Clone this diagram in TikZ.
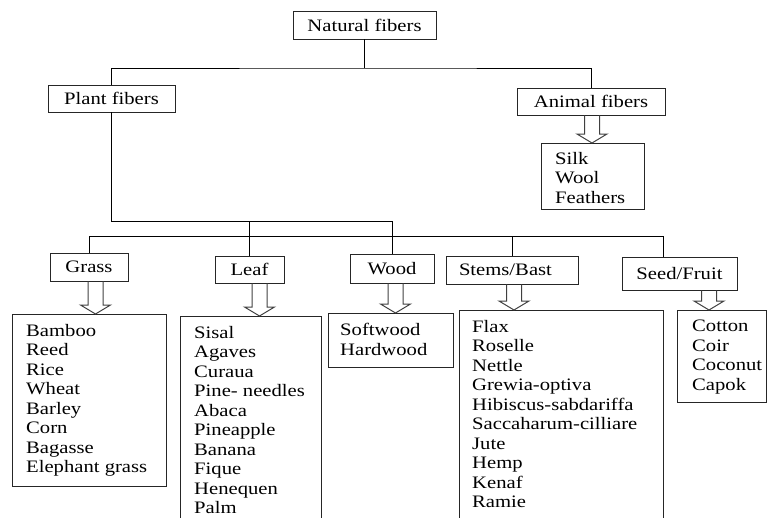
\documentclass[tikz,border=0pt]{standalone}
\usepackage{fontspec}
\setmainfont{Liberation Serif}[FakeStretch=1.18]
\usetikzlibrary{calc}

\newcommand{\hollowarrow}[3]{%
  \coordinate (ha) at (#3,0);
  \draw[hollow] ($(ha |- #1.south)+(-7.5,0)$) -- ($(ha |- #2.north)+(-7.5,-9)$)
    -- ($(ha |- #2.north)+(-15,-9)$) -- (ha |- #2.north)
    -- ($(ha |- #2.north)+(15,-9)$) -- ($(ha |- #2.north)+(7.5,-9)$)
    -- ($(ha |- #1.south)+(7.5,0)$);
}

\begin{document}
\begin{tikzpicture}[x=1pt,y=-1pt,
  catbox/.style={draw=black!85,line width=0.8pt,inner sep=0pt,font=\fontsize{17.5}{19.5}\selectfont},
  listbox/.style={draw=black!85,line width=0.8pt,inner sep=0pt,anchor=north west},
  listtext/.style={align=left,inner sep=0pt,anchor=north west,font=\fontsize{17.5}{19.5}\selectfont},
  hollow/.style={draw=black!75,line width=1pt},
  line/.style={draw=black,line width=0.8pt}]
\useasboundingbox (0,0) rectangle (767,517);
\clip (0,0) rectangle (767,517);

\node[catbox,minimum width=143,minimum height=28] (natural) at (364.5,25) {Natural fibers};
\node[catbox,minimum width=127,minimum height=27] (plant) at (111.5,98.5) {Plant fibers};
\node[catbox,minimum width=148,minimum height=27] (animal) at (591,101.5) {Animal fibers};

\node[catbox,minimum width=78,minimum height=28] (grass) at (89,267) {Grass};
\node[catbox,minimum width=69,minimum height=27] (leaf) at (249.5,269.5) {Leaf};
\node[catbox,minimum width=84,minimum height=29] (wood) at (392,268.5) {Wood};
\node[catbox,inner xsep=13pt,text width=106pt,align=left,minimum height=28] (stems) at (512,270) {Stems/Bast};
\node[catbox,minimum width=115,minimum height=33] (seed) at (679.5,273.5) {Seed/Fruit};

\node[listbox,minimum width=103,minimum height=66] (silkbox) at (541,143) {};
\node[listbox,minimum width=154,minimum height=172] (grassbox) at (12,314) {};
\node[listbox,minimum width=141,minimum height=220] (leafbox) at (180,316) {};
\node[listbox,minimum width=125,minimum height=54] (woodbox) at (328,313) {};
\node[listbox,minimum width=204,minimum height=220] (stemsbox) at (459,310) {};
\node[listbox,minimum width=89,minimum height=92] (seedbox) at (677,310) {};

\node[listtext] (silklist) at (555,152) {Silk\\Wool\\Feathers};
\node[listtext] (grasslist) at (26,324) {Bamboo\\Reed\\Rice\\Wheat\\Barley\\Corn\\Bagasse\\Elephant grass};
\node[listtext] (leaflist) at (194,326) {Sisal\\Agaves\\Curaua\\Pine- needles\\Abaca\\Pineapple\\Banana\\Fique\\Henequen\\Palm};
\node[listtext] (woodlist) at (340,323) {Softwood\\Hardwood};
\node[listtext] (stemslist) at (472,320) {Flax\\Roselle\\Nettle\\Grewia-optiva\\Hibiscus-sabdariffa\\Saccaharum-cilliare\\Jute\\Hemp\\Kenaf\\Ramie};
\node[listtext] (seedlist) at (692,320) {Cotton\\Coir\\Coconut\\Capok};

\coordinate (top) at (364.5,68);
\draw[line] (natural) -- (top);
\draw[line] (plant.north) |- (top) -| (animal.north);

\coordinate (mid) at (111.5,221);
\coordinate (j2) at (249.5,221);
\coordinate (j3) at (392,221);
\coordinate (low) at (89,236);
\coordinate (j4) at (512,236);
\coordinate (j5) at (663,236);
\draw[line] (plant.south) -- (mid) -- (j3);
\draw[line] (j2) -- (leaf.north);
\draw[line] (j3) -- (wood.north);
\draw[line] (grass.north) |- (j5) -- (j5 |- seed.north);
\draw[line] (j4) -- (stems.north);

\hollowarrow{animal}{silkbox}{592}
\hollowarrow{grass}{grassbox}{95.5}
\hollowarrow{leaf}{leafbox}{259.5}
\hollowarrow{wood}{woodbox}{395.5}
\hollowarrow{stems}{stemsbox}{514}
\hollowarrow{seed}{seedbox}{709}

\end{tikzpicture}
\end{document}
